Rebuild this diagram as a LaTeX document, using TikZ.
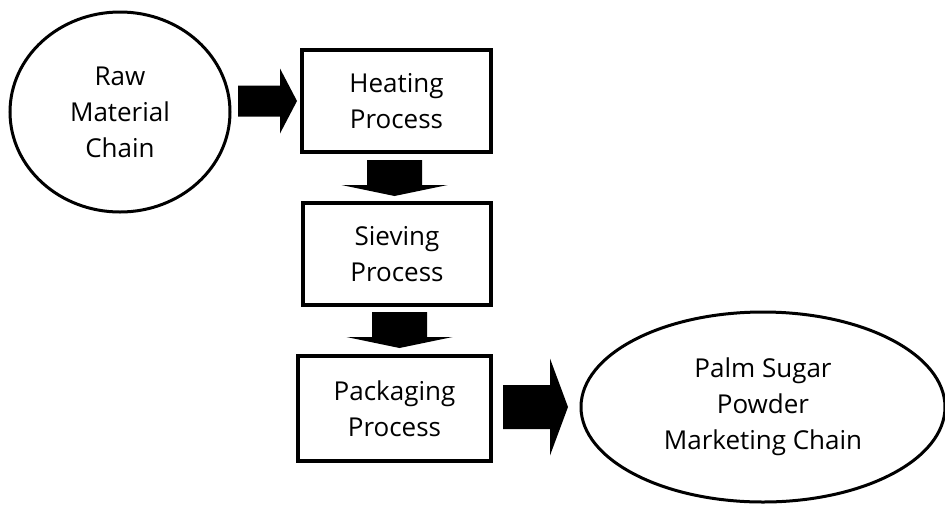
\documentclass[tikz,border=0pt]{standalone}
\usepackage{fontspec}
\setmainfont{Open Sans}
\usetikzlibrary{shapes.geometric,calc}

\tikzset{
  label text/.style={align=center, font=\fontsize{26}{36}\selectfont, inner sep=0pt},
  chainbox/.style={ellipse, draw, line width=3pt, label text},
  stepbox/.style={rectangle, draw, line width=3.5pt, label text},
  blockarrow/.style={fill=black, draw=none},
}

% horizontal block arrow from one anchor to another:
% #1 from, #2 to, #3 gap at tail, #4 gap at tip, #5 shaft half, #6 head half, #7 head length
\newcommand\rightblock[7]{%
  \fill[blockarrow] let \p1=($(#1)+(#3,0)$), \p2=($(#2)-(#4,0)$) in
    (\x1,{\y2+#5pt}) -- ({\x2-#7pt},{\y2+#5pt}) -- ({\x2-#7pt},{\y2+#6pt}) -- (\x2,\y2)
    -- ({\x2-#7pt},{\y2-#6pt}) -- ({\x2-#7pt},{\y2-#5pt}) -- (\x1,{\y2-#5pt}) -- cycle;}
% vertical block arrow pointing down, same arguments
\newcommand\downblock[7]{%
  \fill[blockarrow] let \p1=($(#1)+(0,#3)$), \p2=($(#2)-(0,#4)$) in
    ({\x1-#5pt},\y1) -- ({\x1-#5pt},{\y2+#7pt}) -- ({\x1-#6pt},{\y2+#7pt}) -- (\x1,\y2)
    -- ({\x1+#6pt},{\y2+#7pt}) -- ({\x1+#5pt},{\y2+#7pt}) -- ({\x1+#5pt},\y1) -- cycle;}

\begin{document}
\begin{tikzpicture}[x=1pt, y=-1pt]
  \useasboundingbox (0,0) rectangle (945,507);

  % stages of the chain
  \node[chainbox, minimum width=220pt, minimum height=200pt] (raw) at (120,112)
    {Raw\\Material\\Chain};
  \node[stepbox, minimum width=189pt, minimum height=102pt] (heat) at (396.5,101)
    {Heating\\Process};
  \node[stepbox, minimum width=188pt, minimum height=102pt] (sieve) at (397,254)
    {Sieving\\Process};
  \node[stepbox, minimum width=193pt, minimum height=105pt] (pack) at (394.5,408.5)
    {Packaging\\Process};
  \node[chainbox, minimum width=364pt, minimum height=190pt] (market) at (763,407)
    {Palm Sugar\\Powder\\Marketing Chain};

  % block arrows between the stages
  \rightblock{raw.east}{heat.west}{6.5}{3.25}{15.5}{32.5}{17}
  \downblock{$(heat.south)+(-2,0)$}{sieve.north}{6.25}{5.25}{27.5}{53}{11}
  \downblock{$(sieve.south)+(2.5,0)$}{pack.north}{5.25}{6.25}{27.5}{53}{11}
  \rightblock{pack.east}{market.west}{10.25}{11.5}{22}{48.5}{18}
\end{tikzpicture}
\end{document}
